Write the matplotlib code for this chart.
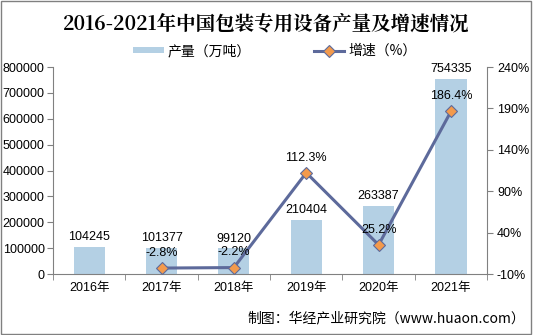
import numpy as np
import matplotlib.pyplot as plt
from matplotlib.patches import Rectangle

plt.rcParams['font.family'] = ['Liberation Sans', 'Noto Sans CJK SC']

# DADOS
anos = ['2016年', '2017年', '2018年', '2019年', '2020年', '2021年']
producao = [104245, 101377, 99120, 210404, 263387, 754335]
crescimento = [None, -2.8, -2.2, 112.3, 25.2, 186.4]

cor_barra = '#b4d0e4'
cor_linha = '#5d6a9b'
cor_marca = '#f39a4c'

fig = plt.figure(figsize=(5.33, 3.35), dpi=100)
ax = fig.add_axes([0.0994, 0.182, 0.8146, 0.618])
ax2 = ax.twinx()

x = np.arange(len(anos))
ax.bar(x, producao, width=0.43, color=cor_barra, zorder=1, label='产量（万吨）')
for xi, v in zip(x, producao):
    ax.text(xi, v + 14000, str(v), ha='center', va='bottom', fontsize=9)

ax.set_ylim(0, 800000)
ax.set_yticks(np.arange(0, 800001, 100000))
ax.set_xlim(-0.5, 5.5)
ax.set_xticks(x)
ax.set_xticklabels(anos, fontsize=9)
ax.set_xticks(np.arange(-0.5, 6, 1), minor=True)
ax.tick_params(axis='x', which='major', length=0, pad=6)
ax.tick_params(axis='x', which='minor', length=4, color='#808080')
ax.tick_params(axis='y', labelsize=9, length=4, pad=2, color='#808080')

x_c = [xi for xi, g in zip(x, crescimento) if g is not None]
g_c = [g for g in crescimento if g is not None]
ax2.plot(x_c, g_c, color=cor_linha, linewidth=2.2, marker='D', markersize=6,
         markerfacecolor=cor_marca, markeredgecolor=cor_linha, markeredgewidth=0.8,
         zorder=3, label='增速（%）')
for xi, g in zip(x_c, g_c):
    ax2.text(xi, g + 11, f'{g}%', ha='center', va='bottom', fontsize=9)

ax2.set_ylim(-10, 240)
ax2.set_yticks(np.arange(-10, 241, 50))
ax2.set_yticklabels([f'{int(t)}%' for t in np.arange(-10, 241, 50)])
ax2.tick_params(axis='y', labelsize=9, length=4, pad=3, color='#808080')

for a in (ax, ax2):
    a.spines['top'].set_visible(False)
    for s in ('left', 'right', 'bottom'):
        a.spines[s].set_color('#808080')
ax.spines['right'].set_visible(False)
ax2.spines['left'].set_visible(False)
ax2.spines['bottom'].set_visible(False)

fig.text(0.50, 0.928, '2016-2021年中国包装专用设备产量及增速情况', ha='center', va='center',
         fontsize=14, fontweight='bold', family=['Noto Serif CJK SC', 'Noto Sans CJK SC'])

h1, l1 = ax.get_legend_handles_labels()
h2, l2 = ax2.get_legend_handles_labels()
fig.legend(h1 + h2, l1 + l2, loc='center', bbox_to_anchor=(0.516, 0.848), ncol=2,
           frameon=False, handlelength=2.2, handleheight=0.35, handletextpad=0.3,
           columnspacing=4.5, prop={'family': ['Noto Sans CJK SC'], 'size': 10})

fig.text(0.985, 0.05, '制图：华经产业研究院（www.huaon.com）', ha='right', va='center',
         fontsize=10, family=['Noto Sans CJK SC'])

fig.patches.append(Rectangle((0.002, 0.003), 0.995, 0.994, transform=fig.transFigure,
                             fill=False, edgecolor='#808080', linewidth=1))

fig.savefig('out.png', dpi=100)
